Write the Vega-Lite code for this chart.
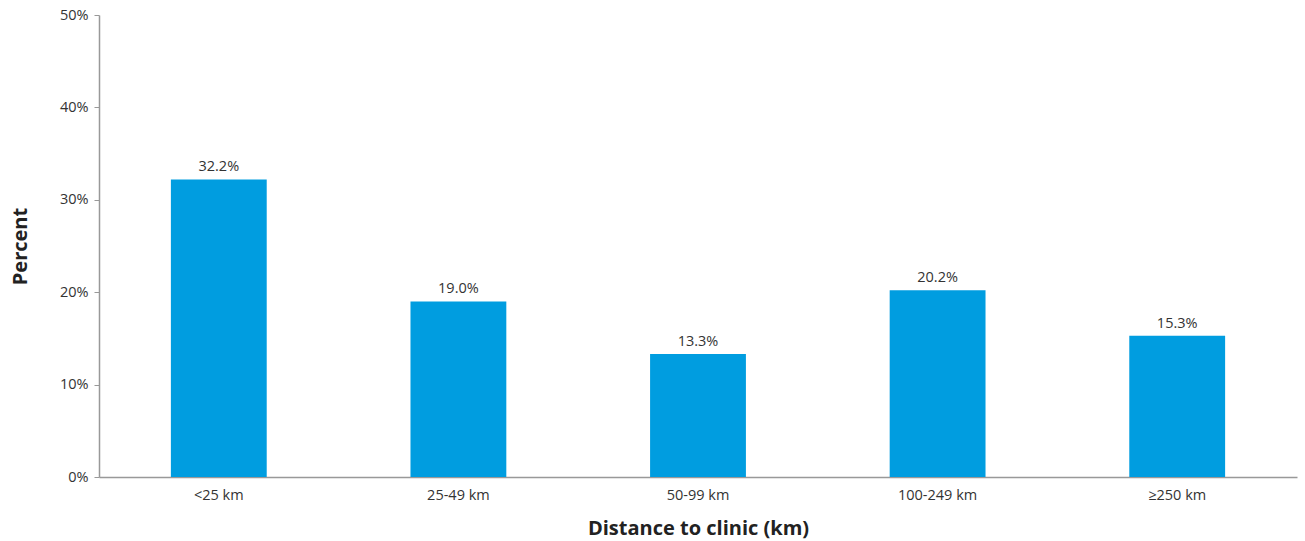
{
  "$schema": "https://vega.github.io/schema/vega-lite/v6.json",
  "autosize": "none",
  "width": 1198,
  "height": 462,
  "padding": {"left": 99, "top": 15, "right": 8, "bottom": 64},
  "background": "white",
  "config": {
    "view": {"stroke": null},
    "font": "Open Sans"
  },
  "data": {
    "values": [
      {"distance": "<25 km", "percent": 0.322},
      {"distance": "25-49 km", "percent": 0.190},
      {"distance": "50-99 km", "percent": 0.133},
      {"distance": "100-249 km", "percent": 0.202},
      {"distance": "≥250 km", "percent": 0.153}
    ]
  },
  "encoding": {
    "x": {
      "field": "distance",
      "type": "nominal",
      "sort": null,
      "scale": {"paddingInner": 0.6, "paddingOuter": 0.3},
      "axis": {
        "title": "Distance to clinic (km)",
        "titleFont": "Open Sans",
        "titleFontSize": 20,
        "titleFontWeight": "bold",
        "titleColor": "#222222",
        "titlePadding": 17,
        "labelAngle": 0,
        "labelFontSize": 14.5,
        "labelColor": "#333333",
        "labelPadding": 11,
        "ticks": false,
        "domainColor": "#999999",
        "domainWidth": 1.5
      }
    },
    "y": {
      "field": "percent",
      "type": "quantitative",
      "scale": {"domain": [0, 0.5], "nice": false},
      "axis": {
        "title": "Percent",
        "titleFont": "Open Sans",
        "titleFontSize": 20,
        "titleFontWeight": "bold",
        "titleColor": "#222222",
        "titlePadding": 29,
        "format": ".0%",
        "values": [0, 0.1, 0.2, 0.3, 0.4, 0.5],
        "grid": false,
        "labelFontSize": 14.5,
        "labelColor": "#333333",
        "labelPadding": 6,
        "tickSize": 5,
        "tickColor": "#999999",
        "domainColor": "#999999",
        "domainWidth": 1.5
      }
    }
  },
  "layer": [
    {
      "mark": {"type": "bar", "color": "#009de0"}
    },
    {
      "mark": {"type": "text", "baseline": "bottom", "dy": -5, "fontSize": 14.5, "color": "#333333"},
      "encoding": {
        "text": {"field": "percent", "type": "quantitative", "format": ".1%"}
      }
    }
  ]
}
